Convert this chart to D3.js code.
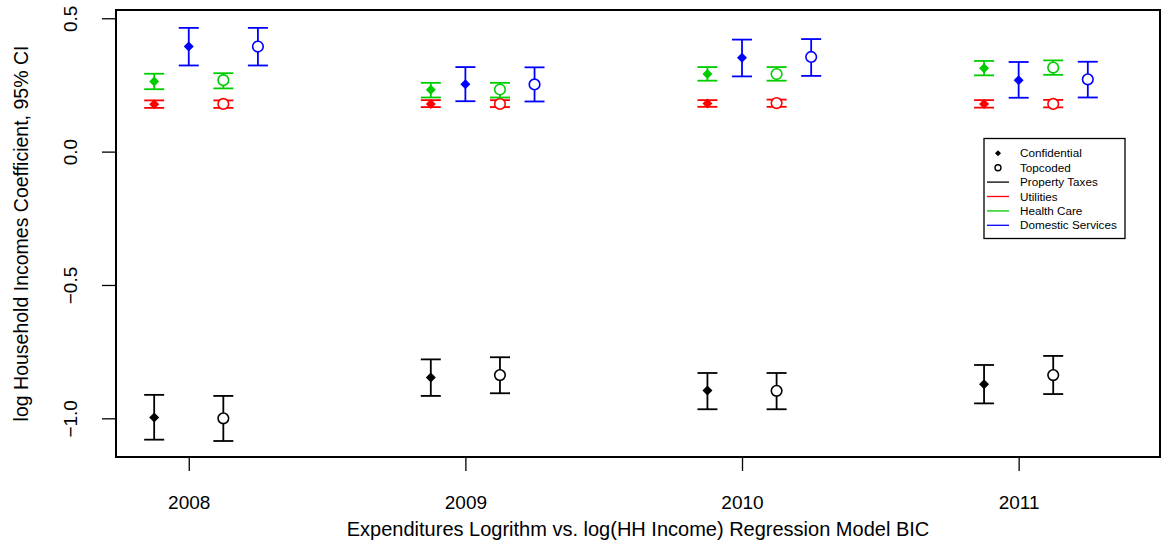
<!DOCTYPE html>
<html>
<head>
<meta charset="utf-8">
<script src="https://cdn.jsdelivr.net/npm/d3@7"></script>
<style>
    body { margin: 0; background: #fff; }
    text { font-family: "Liberation Sans", Arial, Helvetica, sans-serif; }
</style>
</head>
<body>
<div id="Plot"></div>
<script>

//Years on the x axis
const years = [2008, 2009, 2010, 2011];
const yTicks = [-1.0, -0.5, 0.0, 0.5];

//Expenditure categories and colours (legend order)
const categories = ["Property Taxes", "Utilities", "Health Care", "Domestic Services"];
const catColors = ["#000000", "#FF0000", "#00CD00", "#0000FF"];

//Data sources
const sources = ["Confidential", "Topcoded"];

//Coefficient estimates and 95% CI, one value per year
const propConf    = [-0.997, -0.847, -0.896, -0.872];
const propConfLo  = [-1.080, -0.916, -0.966, -0.944];
const propConfHi  = [-0.912, -0.779, -0.830, -0.800];
const propTop     = [-1.000, -0.838, -0.897, -0.838];
const propTopLo   = [-1.085, -0.906, -0.966, -0.909];
const propTopHi   = [-0.916, -0.771, -0.830, -0.766];

const utilConf    = [0.178, 0.179, 0.180, 0.179];
const utilConfLo  = [0.164, 0.167, 0.168, 0.165];
const utilConfHi  = [0.192, 0.193, 0.193, 0.193];
const utilTop     = [0.179, 0.179, 0.182, 0.179];
const utilTopLo   = [0.164, 0.167, 0.168, 0.166];
const utilTopHi   = [0.192, 0.193, 0.195, 0.194];

const healthConf   = [0.263, 0.232, 0.291, 0.313];
const healthConfLo = [0.234, 0.203, 0.266, 0.286];
const healthConfHi = [0.292, 0.258, 0.317, 0.340];
const healthTop    = [0.268, 0.233, 0.291, 0.315];
const healthTopLo  = [0.237, 0.203, 0.266, 0.288];
const healthTopHi  = [0.294, 0.258, 0.317, 0.342];

const domConf    = [0.394, 0.253, 0.352, 0.268];
const domConfLo  = [0.323, 0.189, 0.282, 0.202];
const domConfHi  = [0.464, 0.317, 0.420, 0.336];
const domTop     = [0.394, 0.252, 0.355, 0.271];
const domTopLo   = [0.323, 0.188, 0.284, 0.203];
const domTopHi   = [0.464, 0.316, 0.422, 0.337];

//x offsets (in years) of confidential / topcoded points per category
const confShift = [-0.125, -0.125, -0.125, 0.0];
const topShift  = [0.125, 0.125, 0.125, 0.25];

//Build rows for drawing
let rows = [];
let table = [
    [propConf, propConfLo, propConfHi, propTop, propTopLo, propTopHi],
    [utilConf, utilConfLo, utilConfHi, utilTop, utilTopLo, utilTopHi],
    [healthConf, healthConfLo, healthConfHi, healthTop, healthTopLo, healthTopHi],
    [domConf, domConfLo, domConfHi, domTop, domTopLo, domTopHi]
];
table.forEach((t, c) => {
    years.forEach((yr, i) => {
        rows.push({cat: c, src: 0, x: yr + confShift[c], est: t[0][i], lo: t[1][i], hi: t[2][i]});
        rows.push({cat: c, src: 1, x: yr + topShift[c], est: t[3][i], lo: t[4][i], hi: t[5][i]});
    });
});

//Plot region
const width = 1161, height = 544;
const margin = {top: 10, right: 1, bottom: 87, left: 116};
const plotW = width - margin.left - margin.right;
const plotH = height - margin.top - margin.bottom;

let svg = d3.select("#Plot").append("svg")
    .attr("width", width)
    .attr("height", height);

let x = d3.scaleLinear().domain([2007.737, 2011.511]).range([margin.left, margin.left + plotW]);
let y = d3.scaleLinear().domain([-1.145, 0.531]).range([margin.top + plotH, margin.top]);

///////// Axes: Start //////////////
let xAxis = svg.append("g")
    .attr("transform", "translate(0," + (margin.top + plotH) + ")")
    .call(d3.axisBottom(x).tickValues(years).tickFormat(d3.format("d")).tickSize(14).tickSizeOuter(0));
xAxis.selectAll(".tick line").attr("stroke-width", 1.3);
xAxis.selectAll(".tick text")
    .attr("y", 52).attr("dy", 0)
    .attr("font-size", 19).attr("fill", "#000");

let yAxis = svg.append("g")
    .attr("transform", "translate(" + margin.left + ",0)")
    .call(d3.axisLeft(y).tickValues(yTicks).tickFormat(d3.format(".1f")).tickSize(14).tickSizeOuter(0));
yAxis.selectAll(".tick line").attr("stroke-width", 1.3);
yAxis.selectAll(".tick text")
    .attr("transform", "rotate(-90)")
    .attr("text-anchor", "middle")
    .attr("x", 0).attr("y", -39).attr("dy", 0)
    .attr("font-size", 19).attr("fill", "#000");
svg.selectAll(".domain").remove();

//Box round the plot
svg.append("rect")
    .attr("x", margin.left).attr("y", margin.top)
    .attr("width", plotW).attr("height", plotH)
    .attr("fill", "none").attr("stroke", "#000").attr("stroke-width", 2);

//Axis titles, centred on the plot region
svg.append("text")
    .attr("x", margin.left + plotW / 2).attr("y", 536)
    .attr("text-anchor", "middle").attr("font-size", 20)
    .text("Expenditures Logrithm vs. log(HH Income) Regression Model BIC");

svg.append("text")
    .attr("transform", "translate(28," + (margin.top + plotH / 2) + ") rotate(-90)")
    .attr("text-anchor", "middle").attr("font-size", 19.5)
    .text("log Household Incomes Coefficient, 95% CI");
///////// Axes: End ////////////////

///////// Error bars: Start //////////////
let bars = svg.append("g").selectAll("g").data(rows).join("g")
    .attr("stroke", d => catColors[d.cat])
    .attr("stroke-width", 1.8);

bars.append("line")
    .attr("x1", d => x(d.x)).attr("x2", d => x(d.x))
    .attr("y1", d => y(d.lo)).attr("y2", d => y(d.hi));
bars.append("line")
    .attr("x1", d => x(d.x) - 10).attr("x2", d => x(d.x) + 10)
    .attr("y1", d => y(d.lo)).attr("y2", d => y(d.lo));
bars.append("line")
    .attr("x1", d => x(d.x) - 10).attr("x2", d => x(d.x) + 10)
    .attr("y1", d => y(d.hi)).attr("y2", d => y(d.hi));

//Points: diamonds for confidential, open circles for topcoded
let diamond = "M0,-5L5,0L0,5L-5,0Z";
bars.filter(d => d.src === 0).append("path")
    .attr("d", diamond)
    .attr("transform", d => "translate(" + x(d.x) + "," + y(d.est) + ")")
    .attr("fill", d => catColors[d.cat])
    .attr("stroke", "none");
bars.filter(d => d.src === 1).append("circle")
    .attr("cx", d => x(d.x)).attr("cy", d => y(d.est))
    .attr("r", 5.3)
    .attr("fill", "#fff")
    .attr("stroke-width", 1.6);
///////// Error bars: End ////////////////

///////// Legend: Start //////////////
let legend = svg.append("g");
legend.append("rect")
    .attr("x", 984).attr("y", 138.5)
    .attr("width", 141).attr("height", 100)
    .attr("fill", "#fff").attr("stroke", "#000").attr("stroke-width", 1.3);

let legendItems = sources.map(s => ({label: s, kind: s})).concat(categories.map((c, i) => ({label: c, kind: "line", color: catColors[i]})));
let items = legend.selectAll("g.item").data(legendItems).join("g")
    .attr("transform", (d, i) => "translate(0," + (153.3 + i * 14.4) + ")");

items.filter(d => d.kind === "Confidential").append("path")
    .attr("d", "M998,-3L1001,0L998,3L995,0Z").attr("fill", "#000");
items.filter(d => d.kind === "Topcoded").append("circle")
    .attr("cx", 998).attr("cy", 0).attr("r", 3)
    .attr("fill", "none").attr("stroke", "#000").attr("stroke-width", 1.4);
items.filter(d => d.kind === "line").append("line")
    .attr("x1", 987).attr("x2", 1009).attr("y1", 0).attr("y2", 0)
    .attr("stroke", d => d.color).attr("stroke-width", 1.3);
items.append("text")
    .attr("x", 1020).attr("y", 0).attr("dy", "0.35em")
    .attr("font-size", 11.7)
    .text(d => d.label);
///////// Legend: End ////////////////

</script>
</body>
</html>
